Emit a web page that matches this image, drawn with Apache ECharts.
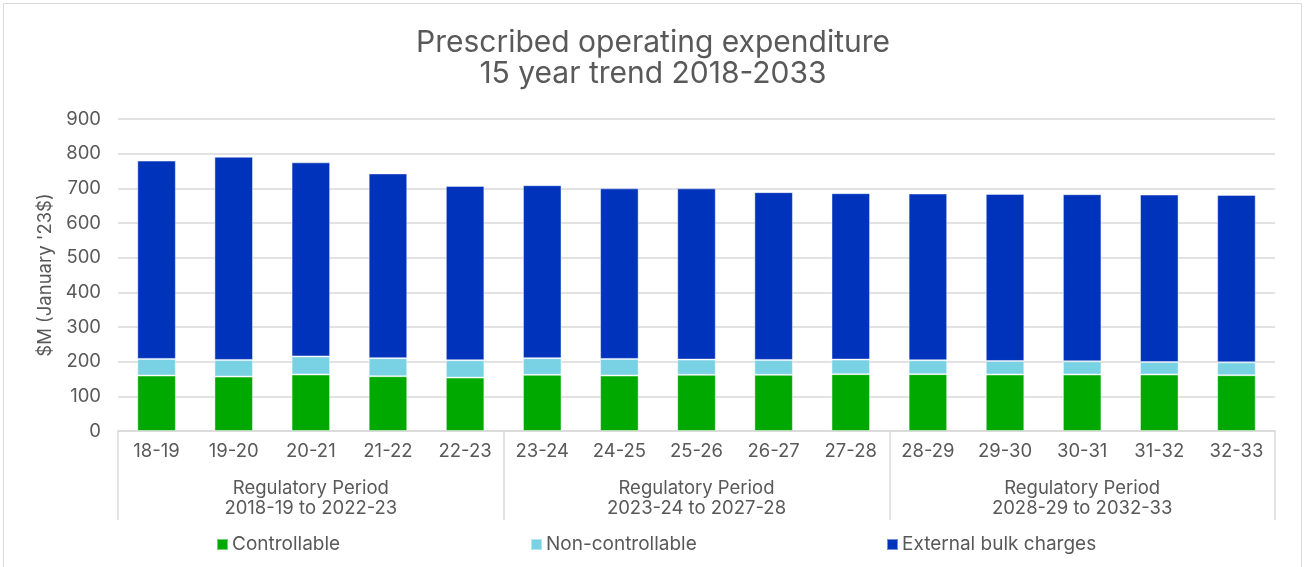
<!DOCTYPE html>
<html>
<head>
<meta charset="utf-8">
<script src="https://cdn.jsdelivr.net/npm/echarts@6/dist/echarts.min.js"></script>
<style>
html,body{margin:0;padding:0;background:#fff;}
#chart{width:1306px;height:567px;}
</style>
</head>
<body>
<div id="chart"></div>
<script>
const categories = ['18-19','19-20','20-21','21-22','22-23','23-24','24-25','25-26','26-27','27-28','28-29','29-30','30-31','31-32','32-33'];
const periods = ['Regulatory Period\n2018-19 to 2022-23','Regulatory Period\n2023-24 to 2027-28','Regulatory Period\n2028-29 to 2032-33'];
const controllable = [160,157,163,158,154,162,160,162,162,164,164,163,163,163,161];
const nonControllable = [48,48,52,52,50,48,48,44,43,42,40,39,38,36,37];
const externalBulk = [572,586,560,533,503,499,492,494,484,480,481,482,482,483,483];
const yTicks = {min:0, max:900, interval:100};

const FONT = 'Inter';
const GREY = '#595959';
const LINE = '#D9D9D9';
const FS = 18.5;
const chart = echarts.init(document.getElementById('chart'));
const mkSeries = (name, data, color) => ({
  name, type:'bar', stack:'total', data, barWidth:'50%',
  itemStyle:{color, borderColor:'rgba(255,255,255,0.45)', borderWidth:1},
  emphasis:{disabled:true}
});
const mkLegend = (name, left) => ({
  data:[name], left, top:535, padding:0, icon:'rect', itemWidth:11, itemHeight:11, itemGap:4,
  textStyle:{color:GREY, fontSize:19, fontFamily:FONT, padding:[0,0,0,-1]}, selectedMode:false
});
chart.setOption({
  animation:false,
  textStyle:{fontFamily:FONT},
  title:{
    text:'Prescribed operating expenditure\n15 year trend 2018-2033',
    left:'center', top:27, padding:0,
    textStyle:{color:GREY, fontSize:30, fontWeight:'normal', lineHeight:31, fontFamily:FONT}
  },
  graphic:[{type:'rect', shape:{x:3.5, y:3.5, width:1298, height:600}, style:{fill:'none', stroke:LINE, lineWidth:1}, silent:true}],
  legend:[mkLegend('Controllable',216), mkLegend('Non-controllable',530), mkLegend('External bulk charges',886)],
  grid:{left:118, right:31, top:119, bottom:136},
  xAxis:[
    {type:'category', data:categories,
     axisLine:{lineStyle:{color:LINE, width:1.5}}, axisTick:{show:false},
     axisLabel:{color:GREY, fontSize:FS, margin:11, fontFamily:FONT}},
    {type:'category', data:periods, position:'bottom',
     axisLine:{show:false},
     axisTick:{show:true, length:89, lineStyle:{color:LINE, width:1.5}},
     axisLabel:{color:GREY, fontSize:FS, lineHeight:20, margin:47, fontFamily:FONT}}
  ],
  yAxis:{type:'value', min:yTicks.min, max:yTicks.max, interval:yTicks.interval,
    name:"$M (January '23$)", nameLocation:'middle', nameGap:62, nameRotate:90,
    nameTextStyle:{color:GREY, fontSize:FS, fontFamily:FONT},
    axisLine:{show:false}, axisTick:{show:false},
    axisLabel:{color:GREY, fontSize:FS, margin:17, fontFamily:FONT},
    splitLine:{lineStyle:{color:LINE, width:1.5}}},
  series:[
    mkSeries('Controllable', controllable, '#00A900'),
    mkSeries('Non-controllable', nonControllable, '#78D2E4'),
    mkSeries('External bulk charges', externalBulk, '#0033BB')
  ]
});
</script>
</body>
</html>
